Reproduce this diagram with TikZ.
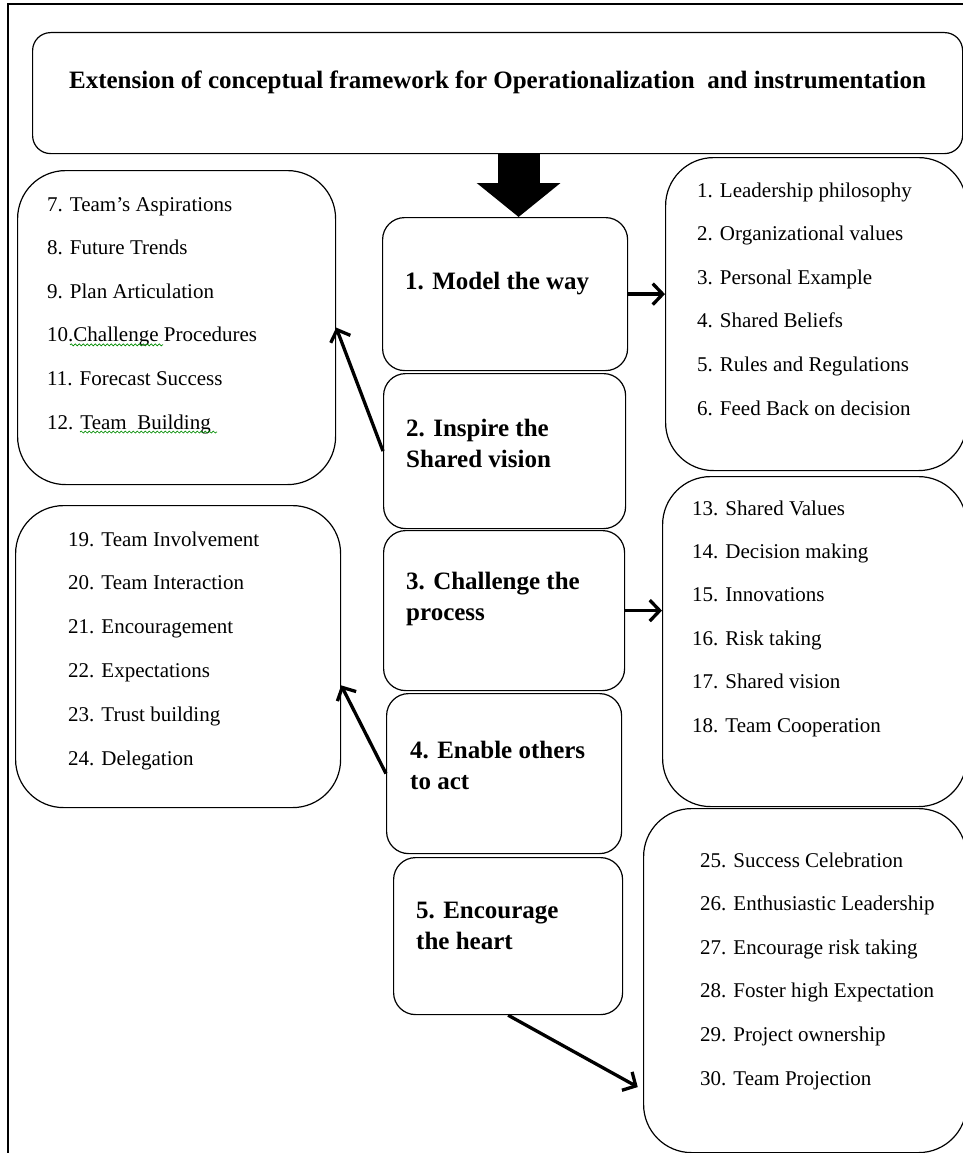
\documentclass[tikz,border=0pt]{standalone}
\usepackage{fontspec}
\setmainfont{Liberation Serif}
\usetikzlibrary{arrows.meta,decorations.pathmorphing}

\begin{document}
\begin{tikzpicture}[x=1pt,y=-1pt,
  box/.style={draw, line width=1.2pt, rounded corners=22pt, anchor=north west, inner sep=0pt},
  listbox/.style={draw, line width=1.2pt, rounded corners=48pt, anchor=north west, inner sep=0pt},
  head/.style={font=\fontsize{25}{31}\selectfont\bfseries, align=left, anchor=west, inner sep=0pt},
  entry/.style={font=\fontsize{21}{26}\selectfont, anchor=west, inner sep=0pt, text height=15pt, text depth=5pt},
  link/.style={line width=3.3pt, -{Straight Barb[length=10pt,width=21pt]}},
  squiggle/.style={green!55!black, line width=0.7pt, decorate, decoration={snake, amplitude=1pt, segment length=4pt}}]

\clip (0,0) rectangle (963,1153);
\draw[line width=1.2pt] (8,1153) -- (8,4) -- (963,4);

% title
\node[box, rounded corners=18pt, minimum width=930pt, minimum height=121pt] (title) at (32,32) {};
\node[font=\fontsize{25}{30}\selectfont\bfseries, inner sep=0pt] (titletext) at ([yshift=11]title.center) {Extension of conceptual framework for Operationalization\ \ and instrumentation};

% practices
\node[box, minimum width=245pt, minimum height=153pt] (b1) at (382,217) {};
\node[box, minimum width=242pt, minimum height=155pt] (b2) at (383,373) {};
\node[box, minimum width=241pt, minimum height=160pt] (b3) at (383,530) {};
\node[box, minimum width=235pt, minimum height=160pt] (b4) at (386,693) {};
\node[box, minimum width=229pt, minimum height=157pt] (b5) at (393,857) {};

\node[head] (b1t) at (405,284) {1. Model the way};
\node[head] (b2t) at (406,443) {2. Inspire the\\Shared vision};
\node[head] (b3t) at (406,599) {3. Challenge the\\process};
\node[head] (b4t) at (410,765) {4. Enable others\\to act};
\node[head] (b5t) at (416,926) {5. Encourage\\the heart};

\draw[line width=42pt, -{Triangle[length=34pt,width=82pt]}] ([xshift=21]title.south) -- ([xshift=13.5]b1.north);

% item lists
\node[listbox, minimum width=318pt, minimum height=314pt] (l1) at (17,170) {};
\foreach \t [count=\i] in {7. Team's Aspirations, 8. Future Trends, 9. Plan Articulation,
  10.Challenge Procedures, 11. Forecast Success, 12. Team\ \ Building}
  \node[entry] (l1-\i) at (47,{206+43.6*(\i-1)}) {\t};

\node[listbox, minimum width=325pt, minimum height=302pt] (l2) at (15,505) {};
\foreach \t [count=\i] in {19. Team Involvement, 20. Team Interaction, 21. Encouragement,
  22. Expectations, 23. Trust building, 24. Delegation}
  \node[entry] (l2-\i) at (68,{541+43.8*(\i-1)}) {\t};

\node[listbox, minimum width=301pt, minimum height=313pt] (r1) at (665,157) {};
\foreach \t [count=\i] in {1. Leadership philosophy, 2. Organizational values, 3. Personal Example,
  4. Shared Beliefs, 5. Rules and Regulations, 6. Feed Back on decision}
  \node[entry] (r1-\i) at (697,{192+43.6*(\i-1)}) {\t};

\node[listbox, minimum width=304pt, minimum height=330pt] (r2) at (662,476) {};
\foreach \t [count=\i] in {13. Shared Values, 14. Decision making, 15. Innovations,
  16. Risk taking, 17. Shared vision, 18. Team Cooperation}
  \node[entry] (r2-\i) at (692,{510+43.4*(\i-1)}) {\t};

\node[listbox, minimum width=323pt, minimum height=344pt] (r3) at (643,808) {};
\foreach \t [count=\i] in {25. Success Celebration, 26. Enthusiastic Leadership, 27. Encourage risk taking,
  28. Foster high Expectation, 29. Project ownership, 30. Team Projection}
  \node[entry] (r3-\i) at (700,{862+43.6*(\i-1)}) {\t};

% spelling marks
\draw[squiggle] ([xshift=23pt,yshift=-3pt]l1-4.base west) -- ++(93,0);
\draw[squiggle] ([xshift=33pt,yshift=-3pt]l1-6.base west) -- ++(137,0);

% connectors
\draw[link] (b1.east) -- (b1.east -| r1.west);
\draw[link] (b2.west) -- (l1.east);
\draw[link] (b3.east) -- (b3.east -| r2.west);
\draw[link] (b4.west) -- (l2.-10);
\draw[link, shorten >=6pt] (b5.south) -- (r3.214);
\end{tikzpicture}
\end{document}
